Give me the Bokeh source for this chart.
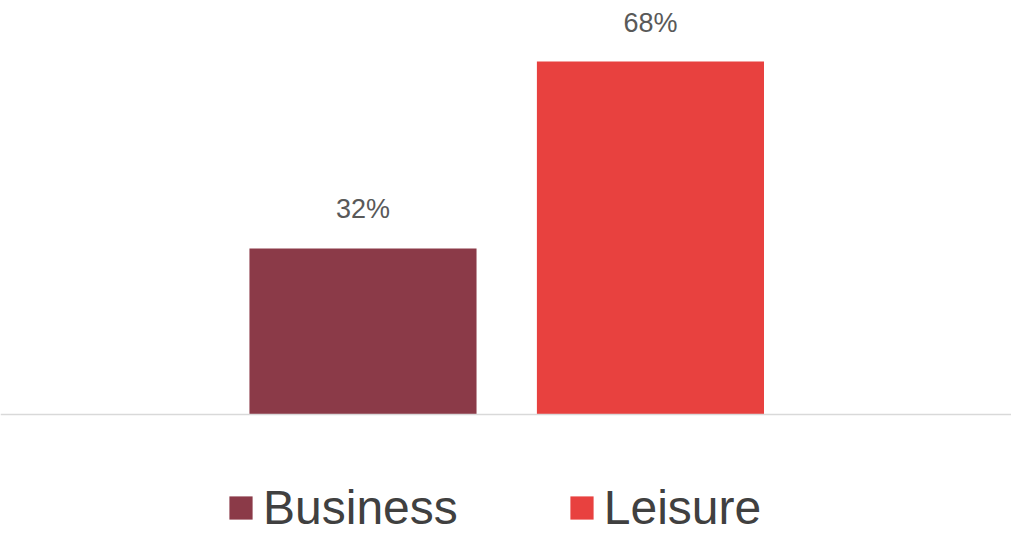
from bokeh.plotting import figure
from bokeh.models import ColumnDataSource, Range1d, Span, LabelSet
from bokeh.core.properties import value
from bokeh.embed import file_html
from bokeh.resources import INLINE

series = ["Business", "Leisure"]
values = [32, 68]
labels = ["32%", "68%"]
colors = ["#8B3A48", "#E8413F"]

src = ColumnDataSource(dict(
    x=list(range(len(series))),
    top=values,
    series=series,
    label=labels,
    color=colors,
))

p = figure(width=1011, height=535, output_backend="svg", toolbar_location=None,
           x_range=Range1d(-1.261, 2.256), y_range=Range1d(-23.31, 79.77),
           min_border=0, outline_line_color=None)
p.axis.visible = False
p.grid.visible = False
p.background_fill_color = "white"
p.border_fill_color = "white"

p.vbar(x="x", top="top", bottom=0, width=0.79, color="color", line_color=None,
       source=src, legend_field="series")

p.add_layout(Span(location=0, dimension="width", line_color="#D9D9D9", line_width=1.5))

p.add_layout(LabelSet(x="x", y="top", text="label", source=src, y_offset=30,
                      text_align="center", text_baseline="alphabetic",
                      text_font=value("Liberation Sans"), text_font_size=value("27px"),
                      text_color=value("#595959")))

lg = p.legend[0]
lg.orientation = "horizontal"
lg.location = (226, 0)
lg.label_text_font = "Liberation Sans"
lg.label_text_font_size = "48px"
lg.label_text_color = "#404040"
lg.glyph_width = 29
lg.glyph_height = 29
lg.label_standoff = 8
lg.spacing = 109
lg.padding = 0
lg.margin = 0
lg.border_line_color = None
lg.background_fill_alpha = 0

open("out.html", "w").write(file_html(p, INLINE))
